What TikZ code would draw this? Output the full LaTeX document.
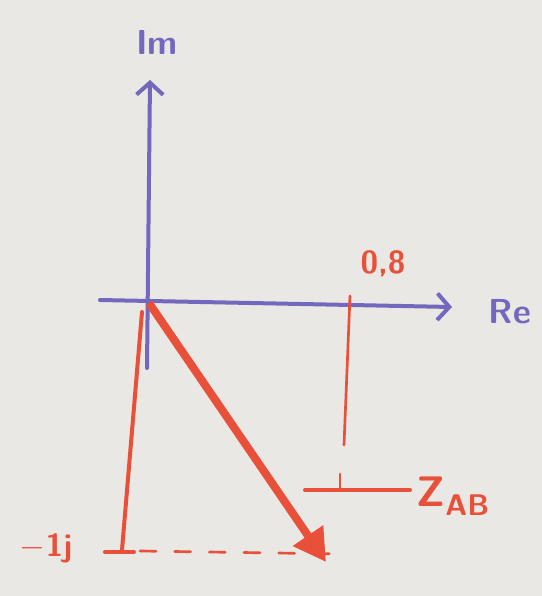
\documentclass[tikz,border=0pt]{standalone}
\usetikzlibrary{arrows.meta}
\definecolor{paper}{HTML}{E9E8E4}
\definecolor{axisblue}{HTML}{7468BE}
\definecolor{penred}{HTML}{E8503A}
\tikzset{
  axisline/.style={draw=axisblue, line width=3pt, line cap=round, -{Straight Barb[length=9pt,width=20pt,line width=3pt]}},
  redline/.style={draw=penred, line width=3pt, line cap=round},
  thinred/.style={draw=penred, line width=2pt, line cap=round},
  redlabel/.style={text=penred, font=\sffamily\bfseries\fontsize{24}{26}\selectfont},
  bluelabel/.style={text=axisblue, font=\sffamily\bfseries\fontsize{26}{28}\selectfont},
}
\begin{document}
\begin{tikzpicture}[x=0.75pt,y=-0.75pt]
\fill[paper] (0,0) rectangle (542,596);
\useasboundingbox (0,0) rectangle (542,596);
% coordinates
\coordinate (O) at (149,303);
\coordinate (imlow) at (147,368);
\coordinate (imtop) at (150,80);
\coordinate (relow) at (100,300);
\coordinate (retop) at (452,307);
\coordinate (redtop) at (142,312);
\coordinate (redbot) at (122,550);
\coordinate (zab) at (326,562);
\coordinate (dashL) at (140,551);
\coordinate (dashR) at (345,554);
\coordinate (vtop) at (350,296);
\coordinate (vbot) at (344,445);
\coordinate (hL) at (305,490);
\coordinate (hR) at (410,490);
\coordinate (tickT) at (340,474);
\coordinate (tickB) at (340,490);
\coordinate (jL) at (105,552);
\coordinate (jR) at (134,552);
% axes
\draw[axisline] (imlow) -- (imtop);
\draw[axisline] (relow) -- (retop);
\node[bluelabel] (im) at (157,42) {Im};
\node[bluelabel] (re) at (510,312) {Re};
% red parts
\draw[redline] (redtop) -- (redbot);
\draw[redline] (jL) -- (jR);
\draw[thinred, dash pattern=on 12pt off 14pt] (dashL) -- (dashR);
\draw[thinred] (vtop) -- (vbot);
\draw[thinred] (tickT) -- (tickB);
\draw[redline] (hL) -- (hR);
\draw[penred, line width=6pt, -{Triangle[length=24pt,width=26pt]}] (O) -- (zab);
\node[redlabel] (re08) at (383,264) {0,8};
\node[redlabel, font=\sffamily\bfseries\fontsize{32}{34}\selectfont, anchor=west] (zlabel) at (412,496) {Z\textsubscript{AB}};
\node[redlabel] (mj) at (46,548) {$-$1j};
\end{tikzpicture}
\end{document}
